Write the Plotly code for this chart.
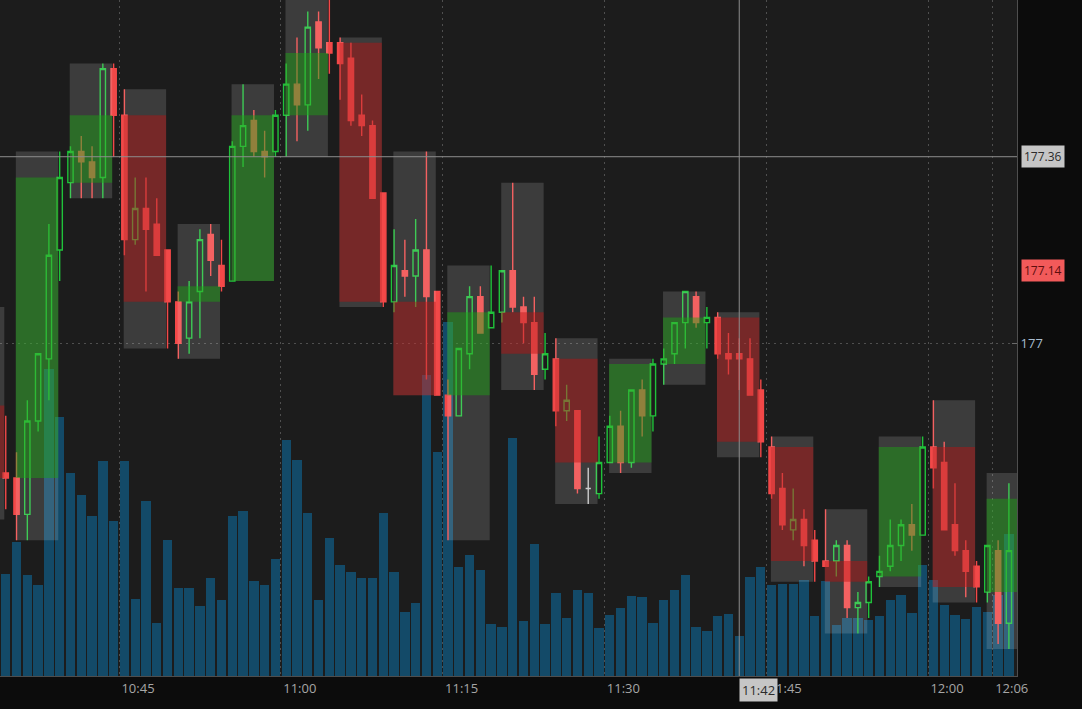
import pandas as pd
import plotly.graph_objects as go

DAY = "2023-06-14"

# ---- 1-minute bars 10:34 .. 12:07 ----
minute_labels = pd.date_range(f"{DAY} 10:34", f"{DAY} 12:07", freq="1min")

opens = [176.75, 176.74, 176.67, 176.85, 176.97, 177.18, 177.31, 177.37, 177.35, 177.32,
         177.53, 177.44, 177.20, 177.26, 177.23, 177.18, 177.08, 177.01, 177.10, 177.21,
         177.15, 177.12, 177.38, 177.43, 177.37, 177.37, 177.44, 177.50, 177.46, 177.62,
         177.58, 177.58, 177.55, 177.44, 177.42, 177.29, 177.08, 177.14, 177.13, 177.18,
         177.10, 176.90, 176.86, 176.98, 177.09, 177.03, 177.06, 177.14, 177.07, 177.04,
         176.95, 176.97, 176.87, 176.87, 176.72, 176.71, 176.77, 176.84, 176.77, 176.91,
         176.86, 176.96, 176.98, 177.04, 177.09, 177.04, 177.05, 176.98, 176.98, 176.97,
         176.91, 176.80, 176.72, 176.64, 176.66, 176.62, 176.58, 176.58, 176.61, 176.49,
         176.50, 176.55, 176.57, 176.61, 176.65, 176.63, 176.80, 176.77, 176.65, 176.60,
         176.57, 176.52, 176.60, 176.46]
highs = [176.86, 176.79, 176.89, 176.98, 177.23, 177.37, 177.38, 177.40, 177.38, 177.54,
         177.54, 177.49, 177.32, 177.32, 177.28, 177.18, 177.10, 177.12, 177.22, 177.23,
         177.20, 177.39, 177.50, 177.45, 177.41, 177.45, 177.54, 177.59, 177.64, 177.64,
         177.67, 177.59, 177.58, 177.48, 177.43, 177.29, 177.22, 177.20, 177.24, 177.37,
         177.10, 176.93, 176.99, 177.11, 177.11, 177.15, 177.14, 177.31, 177.09, 177.09,
         177.02, 177.01, 176.92, 176.87, 176.76, 176.82, 176.86, 176.87, 176.91, 176.93,
         176.97, 176.99, 177.04, 177.10, 177.10, 177.07, 177.06, 177.02, 177.01, 177.01,
         176.93, 176.82, 176.75, 176.72, 176.68, 176.64, 176.68, 176.62, 176.62, 176.52,
         176.55, 176.59, 176.66, 176.66, 176.69, 176.82, 176.89, 176.81, 176.73, 176.62,
         176.58, 176.61, 176.62, 176.73]
lows = [176.68, 176.62, 176.62, 176.83, 176.89, 177.12, 177.28, 177.28, 177.28, 177.28,
        177.36, 177.17, 177.19, 177.10, 177.17, 176.99, 176.97, 176.98, 177.01, 177.13,
        177.10, 177.12, 177.34, 177.36, 177.32, 177.36, 177.36, 177.39, 177.41, 177.51,
        177.52, 177.47, 177.42, 177.40, 177.28, 177.07, 177.06, 177.09, 177.07, 176.93,
        176.90, 176.62, 176.86, 176.95, 177.02, 177.03, 177.04, 177.06, 177.00, 176.91,
        176.93, 176.84, 176.85, 176.71, 176.69, 176.70, 176.77, 176.75, 176.76, 176.82,
        176.83, 176.92, 176.96, 176.99, 177.03, 176.99, 176.97, 176.94, 176.91, 176.90,
        176.78, 176.70, 176.64, 176.62, 176.57, 176.54, 176.57, 176.55, 176.47, 176.44,
        176.47, 176.53, 176.56, 176.58, 176.60, 176.63, 176.72, 176.64, 176.59, 176.51,
        176.50, 176.50, 176.42, 176.41]
closes = [176.74, 176.67, 176.85, 176.98, 177.17, 177.32, 177.37, 177.35, 177.32, 177.53,
          177.44, 177.20, 177.26, 177.22, 177.17, 177.08, 177.00, 177.08, 177.20, 177.16,
          177.11, 177.38, 177.42, 177.37, 177.36, 177.44, 177.50, 177.46, 177.61, 177.57,
          177.56, 177.54, 177.43, 177.42, 177.28, 177.08, 177.15, 177.13, 177.18, 177.09,
          176.90, 176.86, 176.99, 177.09, 177.02, 177.06, 177.14, 177.07, 177.04, 176.94,
          176.98, 176.87, 176.89, 176.72, 176.72, 176.77, 176.84, 176.77, 176.91, 176.86,
          176.96, 176.97, 177.04, 177.10, 177.04, 177.05, 176.98, 176.97, 176.97, 176.90,
          176.81, 176.71, 176.65, 176.66, 176.61, 176.58, 176.57, 176.61, 176.49, 176.50,
          176.54, 176.56, 176.61, 176.65, 176.63, 176.80, 176.76, 176.64, 176.60, 176.56,
          176.53, 176.61, 176.46, 176.60]
volumes_k = [102, 134, 101, 91, 307, 259, 203, 181, 160, 215,
             155, 215, 77, 175, 53, 136, 88, 88, 70, 98,
             76, 160, 165, 95, 91, 117, 236, 216, 163, 76,
             138, 111, 104, 98, 98, 163, 104, 64, 73, 301,
             224, 354, 109, 121, 106, 52, 49, 238, 55, 132,
             52, 83, 58, 86, 83, 48, 61, 68, 80, 79,
             53, 76, 86, 101, 49, 45, 60, 62, 40, 99,
             109, 91, 92, 92, 96, 60, 95, 51, 58, 58,
             56, 60, 76, 81, 63, 111, 96, 71, 61, 57,
             69, 64, 81, 142]

# ---- 5-minute aggregation boxes ----
box_starts = ["10:30", "10:35", "10:40", "10:45", "10:50", "10:55", "11:00", "11:05", "11:10", "11:15",
              "11:20", "11:25", "11:30", "11:35", "11:40", "11:45", "11:50", "11:55", "12:00", "12:05"]
box_open = [176.88, 176.74, 177.31, 177.44, 177.08, 177.12, 177.44, 177.58, 177.08, 176.90,
            177.06, 176.97, 176.77, 176.96, 177.05, 176.80, 176.58, 176.55, 176.80, 176.52]
box_high = [177.07, 177.37, 177.54, 177.49, 177.23, 177.50, 177.67, 177.59, 177.37, 177.15,
            177.31, 177.01, 176.97, 177.10, 177.06, 176.82, 176.68, 176.82, 176.89, 176.75]
box_low = [176.66, 176.62, 177.28, 176.99, 176.97, 177.12, 177.36, 177.07, 176.90, 176.62,
           176.91, 176.69, 176.75, 176.92, 176.78, 176.54, 176.44, 176.53, 176.50, 176.41]
box_close = [176.74, 177.32, 177.44, 177.08, 177.11, 177.44, 177.56, 177.08, 176.90, 177.06,
             176.98, 176.77, 176.96, 177.05, 176.81, 176.58, 176.54, 176.80, 176.53, 176.70]

x_tick_labels = ["10:45", "11:00", "11:15", "11:30", "11:45", "12:00", "12:06"]
price_ticks = [177]
cursor_time = "11:42"
cursor_price = 177.36
last_price = 177.14

# ---- styling ----
BG = "#1c1c1c"
PAPER = "#0c0c0c"
UP = "#1fc23a"
DOWN = "#f24848"
VOL = "#134a68"
GRID = "#4f4f4f"

bar_mid = minute_labels + pd.Timedelta(seconds=30)

fig = go.Figure()

fig.add_trace(go.Bar(
    x=bar_mid, y=volumes_k, marker=dict(color=VOL, line=dict(width=0)),
    width=52000, yaxis="y", hoverinfo="skip", showlegend=False))

def candle_trace(idx, line_col, fill_col):
    return go.Candlestick(
        x=[bar_mid[i] for i in idx],
        open=[opens[i] for i in idx], high=[highs[i] for i in idx],
        low=[lows[i] for i in idx], close=[closes[i] for i in idx],
        increasing=dict(line=dict(color=line_col, width=1.4), fillcolor=fill_col),
        decreasing=dict(line=dict(color=line_col, width=1.4), fillcolor=fill_col),
        whiskerwidth=0, yaxis="y2", hoverinfo="skip", showlegend=False)

n = len(opens)
up_idx = [i for i in range(n) if closes[i] > opens[i]]
dn_idx = [i for i in range(n) if closes[i] < opens[i]]
flat_idx = [i for i in range(n) if closes[i] == opens[i]]
fig.add_trace(candle_trace(up_idx, UP, "rgba(0,0,0,0)"))
fig.add_trace(candle_trace(dn_idx, DOWN, DOWN))
if flat_idx:
    fig.add_trace(candle_trace(flat_idx, "#c4c4c4", "#c4c4c4"))

shapes = []
for s, o, h, l, c in zip(box_starts, box_open, box_high, box_low, box_close):
    t0 = pd.Timestamp(f"{DAY} {s}")
    x0 = t0 + pd.Timedelta(seconds=26)
    x1 = t0 + pd.Timedelta(minutes=4, seconds=22)
    shapes.append(dict(type="rect", xref="x", yref="y2", x0=x0, x1=x1, y0=l, y1=h,
                       fillcolor="rgba(255,255,255,0.14)", line=dict(width=0), layer="above"))
    col = "rgba(24,167,16,0.45)" if c >= o else "rgba(189,16,16,0.45)"
    shapes.append(dict(type="rect", xref="x", yref="y2", x0=x0, x1=x1, y0=o, y1=c,
                       fillcolor=col, line=dict(width=0), layer="above"))

cursor_x = pd.Timestamp(f"{DAY} {cursor_time}") + pd.Timedelta(seconds=30)
shapes.append(dict(type="line", xref="x", yref="paper", x0=cursor_x, x1=cursor_x, y0=0, y1=1,
                   line=dict(color="#8e8e8e", width=1), layer="above"))
shapes.append(dict(type="line", xref="paper", yref="y2", x0=0, x1=1, y0=cursor_price, y1=cursor_price,
                   line=dict(color="#8e8e8e", width=1), layer="above"))

annotations = [
    dict(text=f"{cursor_price:.2f}", xref="paper", x=1.004, xanchor="left", yref="y2", y=cursor_price,
         yanchor="middle", showarrow=False, bgcolor="#c6c6c6", borderpad=2,
         font=dict(color="#2b2b2b", size=12, family="Open Sans")),
    dict(text=f"{last_price:.2f}", xref="paper", x=1.004, xanchor="left", yref="y2", y=last_price,
         yanchor="middle", showarrow=False, bgcolor="#f25a5a", borderpad=2,
         font=dict(color="#5e0e0e", size=12, family="Open Sans")),
    dict(text=cursor_time, xref="x", x=cursor_x, xanchor="left", yref="paper", y=-0.021,
         yanchor="middle", showarrow=False, bgcolor="#c6c6c6", borderpad=2,
         font=dict(color="#2b2b2b", size=13, family="Open Sans")),
]

fig.update_layout(
    width=1082, height=709,
    margin=dict(l=0, r=65, t=0, b=33),
    paper_bgcolor=PAPER, plot_bgcolor=BG,
    showlegend=False, bargap=0,
    shapes=shapes, annotations=annotations,
    xaxis=dict(
        type="date",
        range=[f"{DAY} 10:33:58", f"{DAY} 12:08:15"],
        rangeslider=dict(visible=False),
        tickvals=[f"{DAY} {t}" for t in x_tick_labels],
        ticktext=x_tick_labels,
        ticklabelshift=19,
        showgrid=True, gridcolor=GRID, griddash="2px,4px", gridwidth=1,
        showline=True, linecolor="#4e4e4e", linewidth=1,
        ticks="", zeroline=False,
        tickfont=dict(color="#a6a6a6", size=13, family="Open Sans"),
    ),
    yaxis=dict(range=[0, 676], visible=False, showgrid=False, zeroline=False),
    yaxis2=dict(
        range=[176.3581, 177.6624], overlaying="y", side="right",
        tickvals=price_ticks, ticktext=[str(v) for v in price_ticks],
        showgrid=True, gridcolor=GRID, griddash="2px,4px", gridwidth=1,
        ticks="inside", ticklen=5, tickcolor="#6a6a6a",
        showline=True, linecolor="#4e4e4e", linewidth=1, zeroline=False,
        tickfont=dict(color="#a9bdd0", size=13, family="Open Sans"),
    ),
)

fig.write_html(
    "out.html",
    config={"displayModeBar": False, "staticPlot": True},
    post_script=(
        "document.documentElement.style.margin='0';"
        "document.body.style.margin='0';"
        "document.body.style.overflow='hidden';"
        "document.body.style.background='#0c0c0c';"
    ),
)
